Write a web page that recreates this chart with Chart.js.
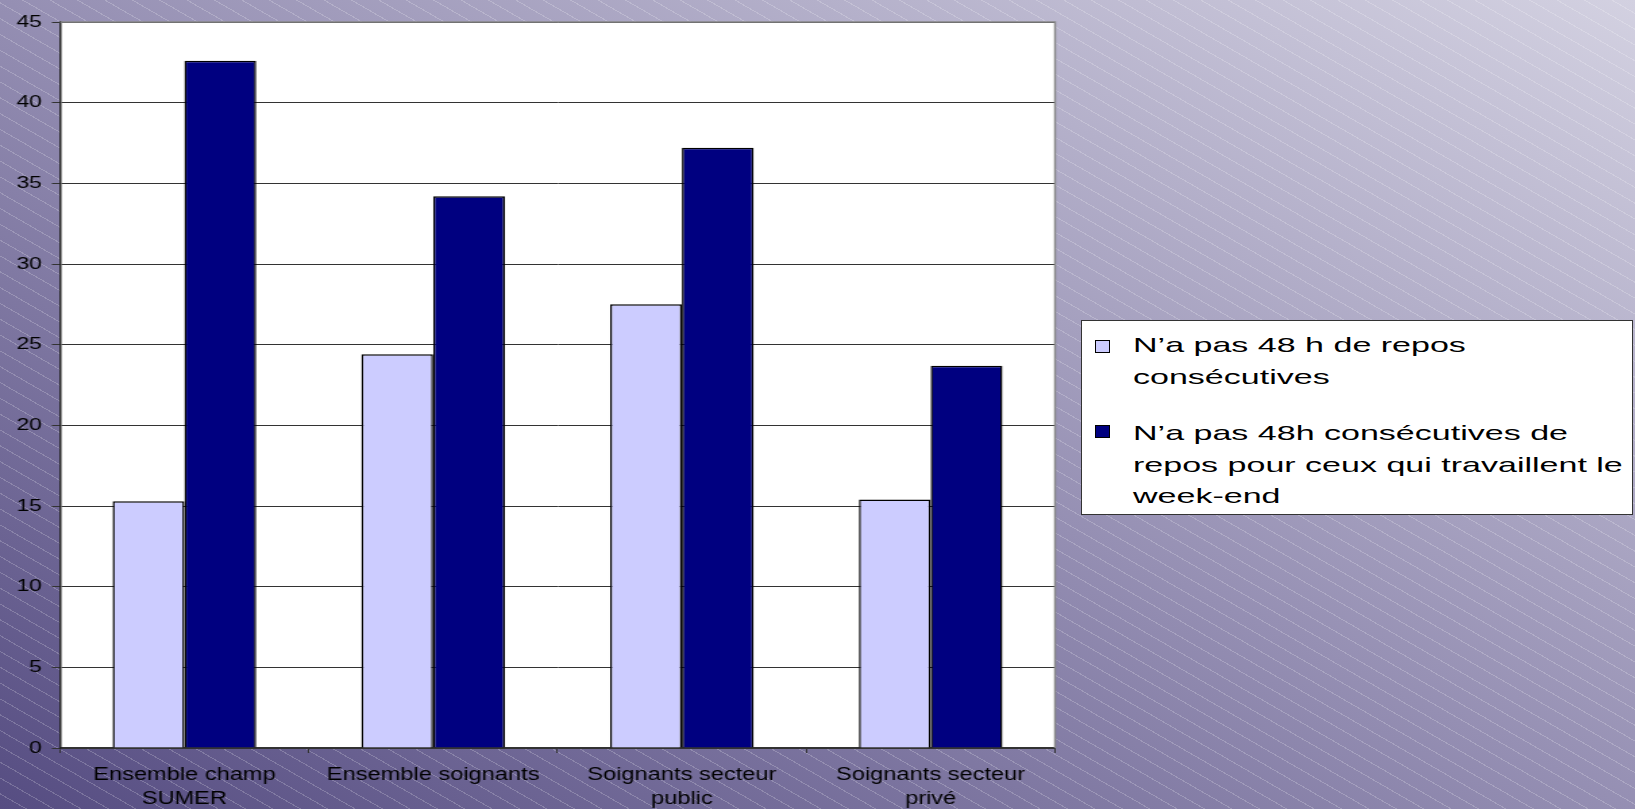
<!DOCTYPE html>
<html>
<head>
<meta charset="utf-8">
<script src="https://cdn.jsdelivr.net/npm/chart.js@4.4.0/dist/chart.umd.min.js"></script>
<style>
  html, body { margin: 0; padding: 0; }
  body {
    width: 1635px; height: 809px; overflow: hidden; position: relative;
    background:
      repeating-linear-gradient(30deg, rgba(255,255,255,0) 0px, rgba(255,255,255,0) 12.7px, rgba(255,255,255,0.2) 12.7px, rgba(255,255,255,0.2) 13.7px),
      linear-gradient(to top right, #564d82, #958fb3 50%, #d3d1e1);
    font-family: 'Liberation Sans', Arial, sans-serif;
  }
  /* the slide stretches the chart sideways, so the canvas is drawn narrow and widened */
  #chart { position: absolute; left: 0; top: 0; }
  #legend {
    position: absolute; left: 1081px; top: 320px; width: 552px; height: 195px;
    background: #fff; border: 1px solid #333; box-sizing: border-box; padding-top: 8px;
  }
  .item { position: relative; margin-bottom: 25px; }
  .swatch { position: absolute; left: 13px; width: 15px; height: 13px; box-sizing: border-box; border: 1px solid #000; }
  .label {
    display: block; margin-left: 51px; white-space: nowrap; font-size: 21px; line-height: 31.5px; color: #000;
    transform: scaleX(1.62); transform-origin: 0 0;
  }
</style>
</head>
<body>
<canvas id="chart" width="800" height="809" style="width:1080px;height:809px"></canvas>
<div id="legend"></div>
<script>
const categories = [['Ensemble champ', 'SUMER'], 'Ensemble soignants', ['Soignants secteur', 'public'], ['Soignants secteur', 'privé']];
// legend lines as they wrap on the slide
const seriesNames = [
  ['N’a pas 48 h de repos', 'consécutives'],
  ['N’a pas 48h consécutives de', 'repos pour ceux qui travaillent le', 'week-end']
];
const noRest48h = [15.3, 24.4, 27.5, 15.4];
const noRest48hWeekend = [42.6, 34.2, 37.2, 23.7];
const seriesColors = ['#ccccff', '#000080'];
const yMax = 45;
const yStep = 5;

const STRETCH = 1.35;

const plotFrame = {
  id: 'plotFrame',
  beforeDraw(chart) {
    const { ctx, chartArea: a } = chart;
    ctx.save();
    ctx.fillStyle = '#fff';
    ctx.fillRect(a.left, a.top, a.width, a.height);
    ctx.restore();
  },
  afterDraw(chart) {
    const { ctx, chartArea: a } = chart;
    ctx.save();
    ctx.strokeStyle = '#888';
    ctx.lineWidth = 1.5;
    ctx.beginPath();
    ctx.moveTo(a.left, a.top);
    ctx.lineTo(a.right, a.top);
    ctx.lineTo(a.right, a.bottom);
    ctx.stroke();
    ctx.restore();
  }
};

const chart = new Chart(document.getElementById('chart'), {
  type: 'bar',
  data: {
    labels: categories,
    datasets: [
      { label: seriesNames[0].join(' '), data: noRest48h, backgroundColor: seriesColors[0], borderColor: '#000', borderWidth: 1.5 },
      { label: seriesNames[1].join(' '), data: noRest48hWeekend, backgroundColor: seriesColors[1], borderColor: '#000', borderWidth: 1.5 }
    ]
  },
  options: {
    responsive: false,
    animation: false,
    layout: { padding: { top: 22, right: 18.5, bottom: 0, left: 0 } },
    datasets: { bar: { categoryPercentage: 0.577, barPercentage: 1 } },
    plugins: { legend: { display: false }, tooltip: { enabled: false } },
    scales: {
      x: {
        afterFit(scale) { scale.height = 61; },
        grid: { drawOnChartArea: false, drawTicks: true, tickLength: 5, color: '#333', offset: true },
        border: { color: '#333', width: 1.5 },
        ticks: { color: '#000', maxRotation: 0, autoSkip: false, padding: 10, font: { family: 'Liberation Sans', size: 17.5, lineHeight: 1.37 } }
      },
      y: {
        min: 0,
        max: yMax,
        afterFit(scale) { scale.width = 60 / STRETCH; },
        grid: { color: '#333', lineWidth: 1, tickLength: 6, tickColor: '#333' },
        border: { color: '#222', width: 1.5 },
        ticks: { stepSize: yStep, color: '#000', padding: 7.4, font: { family: 'Liberation Sans', size: 17 } }
      }
    }
  },
  plugins: [plotFrame]
});

// html legend built from the chart's datasets
const legendEl = document.getElementById('legend');
chart.data.datasets.forEach((ds, i) => {
  const item = document.createElement('div');
  item.className = 'item';
  const sw = document.createElement('span');
  sw.className = 'swatch';
  sw.style.background = ds.backgroundColor;
  sw.style.top = (i === 0 ? 11 : 8) + 'px';
  const txt = document.createElement('span');
  txt.className = 'label';
  seriesNames[i].forEach((line, k) => {
    if (k) txt.appendChild(document.createElement('br'));
    txt.appendChild(document.createTextNode(line));
  });
  item.appendChild(sw);
  item.appendChild(txt);
  legendEl.appendChild(item);
});
</script>
</body>
</html>
